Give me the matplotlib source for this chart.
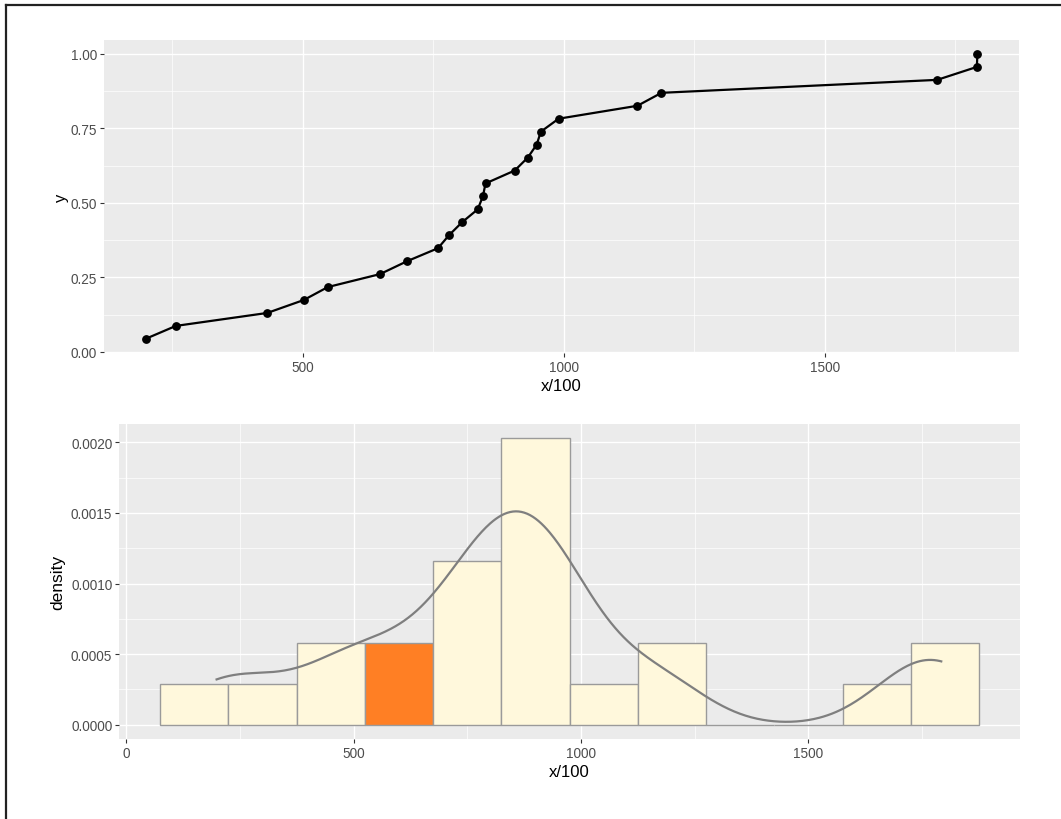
import matplotlib
matplotlib.use("Agg")
import matplotlib.pyplot as plt
from matplotlib.lines import Line2D
from matplotlib.ticker import MultipleLocator, FormatStrFormatter
import numpy as np

# observed values (already divided by 100)
x_vals = [199, 257, 432, 502, 548, 648, 700, 759, 780, 805, 835, 845, 850,
          906, 931, 948, 956, 990, 1141, 1187, 1715, 1791, 1792]
bin_start, bin_end, bin_width = 75, 1875, 150
highlight_bin = 3

plt.rcParams['font.family'] = ['Liberation Sans', 'DejaVu Sans']

PANEL = '#EBEBEB'
TICK_TXT = '#4D4D4D'


def style_axes(ax):
    ax.set_facecolor(PANEL)
    for s in ax.spines.values():
        s.set_visible(False)
    ax.grid(which='major', color='white', linewidth=1.0, zorder=0)
    ax.grid(which='minor', color='white', linewidth=0.5, zorder=0)
    ax.set_axisbelow(True)
    ax.tick_params(which='major', length=3, width=0.8, color='#333333',
                   labelcolor=TICK_TXT, labelsize=9.8, pad=2)
    ax.tick_params(which='minor', length=0)


fig = plt.figure(figsize=(10.61, 8.2), dpi=100)

x = np.sort(np.array(x_vals, dtype=float))
n = len(x)

# --- empirical CDF ---
ax1 = fig.add_axes([0.098, 0.5683, 0.8624, 0.3821])
style_axes(ax1)
ecdf_y = np.arange(1, n + 1) / n
ax1.plot(x, ecdf_y, color='black', linewidth=1.6, marker='o', markersize=5.3,
         zorder=3)
span = x.max() - x.min()
ax1.set_xlim(x.min() - 0.05 * span, x.max() + 0.05 * span)
ax1.set_ylim(-0.004, 1.048)
ax1.xaxis.set_major_locator(MultipleLocator(500))
ax1.xaxis.set_minor_locator(MultipleLocator(250))
ax1.yaxis.set_major_locator(MultipleLocator(0.25))
ax1.yaxis.set_minor_locator(MultipleLocator(0.125))
ax1.yaxis.set_major_formatter(FormatStrFormatter('%.2f'))
ax1.set_xlabel('x/100', fontsize=12, labelpad=3)
ax1.set_ylabel('y', fontsize=12, labelpad=1)

# --- histogram with density curve ---
ax2 = fig.add_axes([0.1124, 0.0976, 0.8489, 0.3841])
style_axes(ax2)
edges = np.arange(bin_start, bin_end + 1, bin_width)
_, _, patches = ax2.hist(x, bins=edges, density=True, facecolor='#FFF8DC',
                         edgecolor='#9A9A9A', linewidth=1.0, zorder=2)
patches[highlight_bin].set_facecolor('#FF7F24')

# gaussian kernel density, bandwidth as in R's bw.nrd0
q75, q25 = np.percentile(x, [75, 25])
bw = 0.9 * min(x.std(ddof=1), (q75 - q25) / 1.34) * n ** -0.2
grid = np.linspace(x.min(), x.max(), 512)
dens = np.exp(-0.5 * ((grid[:, None] - x[None, :]) / bw) ** 2).sum(axis=1)
dens /= n * bw * np.sqrt(2 * np.pi)
ax2.plot(grid, dens, color='#7F7F7F', linewidth=1.6, zorder=3)

xspan = bin_end - bin_start
ax2.set_xlim(bin_start - 0.05 * xspan, bin_end + 0.05 * xspan)
top = max(p.get_height() for p in patches)
ax2.set_ylim(-0.05 * top, 1.05 * top)
ax2.xaxis.set_major_locator(MultipleLocator(500))
ax2.xaxis.set_minor_locator(MultipleLocator(250))
ax2.yaxis.set_major_locator(MultipleLocator(0.0005))
ax2.yaxis.set_minor_locator(MultipleLocator(0.00025))
ax2.yaxis.set_major_formatter(FormatStrFormatter('%.4f'))
ax2.set_xlabel('x/100', fontsize=12, labelpad=3)
ax2.set_ylabel('density', fontsize=12.5, labelpad=4)

# frame lines along the left and top edge
fig.add_artist(Line2D([6 / 1061, 6 / 1061], [0, 1 - 5.5 / 820],
                      color='#222222', linewidth=1.6))
fig.add_artist(Line2D([6 / 1061, 1], [1 - 5.5 / 820, 1 - 5.5 / 820],
                      color='#222222', linewidth=1.6))

fig.savefig('out.png', dpi=100)
